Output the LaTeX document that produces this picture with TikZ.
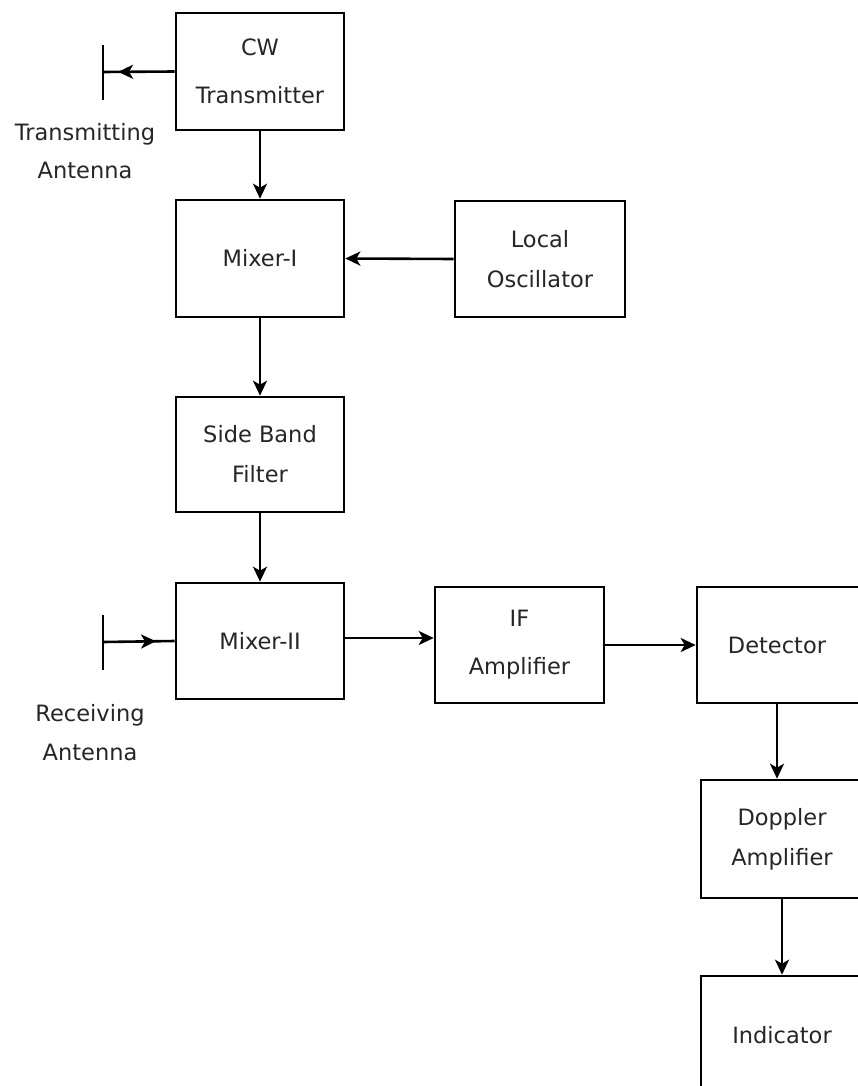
\documentclass[tikz,border=0pt]{standalone}
\usepackage{fontspec}
\setmainfont{DejaVu Sans}
\usetikzlibrary{arrows.meta,decorations.markings}
\begin{document}
\begin{tikzpicture}[x=1pt,y=-1pt,
  blk/.style={draw=black,line width=2.6pt,minimum width=168pt,minimum height=117pt,inner sep=0pt,
    align=center,text=black!85,font=\fontsize{22.5}{40}\selectfont},
  lbl/.style={align=center,text=black!85,font=\fontsize{22.5}{38.5}\selectfont,inner sep=0pt},
  arr/.style={draw=black,line width=2.6pt,-{Stealth[length=15pt,width=14pt,inset=4pt]}},
  ln/.style={draw=black,line width=2.6pt},
  markarr/.style={ln,postaction={decorate},decoration={markings,mark=at position #1 with {\arrow{Stealth[length=15pt,width=14pt,inset=4pt]}}}}
]
\useasboundingbox (0,0) rectangle (858,1086);
\clip (0,0) rectangle (858,1086);
\fill[white] (0,0) rectangle (858,1086);

\node[blk] (tx) at (260,71.5) {CW\\[8pt]Transmitter};
\node[blk] (mix1) at (260,258.5) {Mixer-I};
\node[blk,minimum width=170pt,minimum height=116pt] (lo) at (540,259) {Local\\Oscillator};
\node[blk,minimum height=115pt] (sbf) at (260,454.5) {Side Band\\Filter};
\node[blk,minimum height=116pt] (mix2) at (260,641) {Mixer-II};
\node[blk,minimum width=169pt,minimum height=116pt] (ifa) at (519.5,645) {IF\\[8pt]Amplifier};
\node[blk,minimum height=116pt] (det) at (781,645) {\hspace*{-8pt}Detector};
\node[blk,minimum height=118pt] (dop) at (785,839) {\hspace*{-6pt}Doppler\\\hspace*{-6pt}Amplifier};
\node[blk,minimum height=118pt] (ind) at (785,1035) {\hspace*{-6pt}Indicator};

% antennas
\coordinate (tant) at (103,72);
\coordinate (rant) at (103,642);
\draw[ln] (103,45) -- (103,100);
\draw[ln] (103,615) -- (103,670);
\node[lbl] (tlbl) at (85,151) {Transmitting\\Antenna};
\node[lbl] (rlbl) at (90,732.5) {Receiving\\Antenna};

\draw[markarr=0.79] (tx.west) -- (tant);
\draw[markarr=0.74] (rant) -- (mix2.west);

% connectors
\draw[arr] (tx.south) -- (mix1.north);
\draw[arr] (lo.west) -- (mix1.east);
\draw[arr] (mix1.south) -- (sbf.north);
\draw[arr] (sbf.south) -- (mix2.north);
\draw[arr] ([yshift=3pt]mix2.east) -- ([yshift=3pt]mix2.east -| ifa.west);
\draw[arr] (ifa.east) -- (det.west);
\draw[arr] ([xshift=-4pt]det.south) -- ([xshift=-4pt]det.south |- dop.north);
\draw[arr] ([xshift=-3pt]dop.south) -- ([xshift=-3pt]dop.south |- ind.north);
\end{tikzpicture}
\end{document}
